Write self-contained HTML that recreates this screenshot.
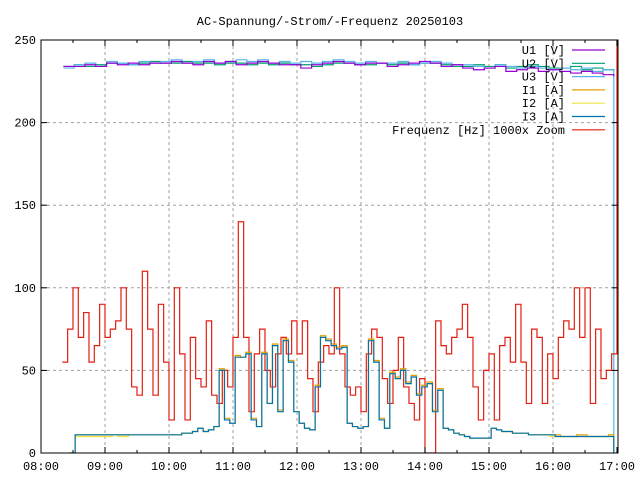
<!DOCTYPE html>
<html><head><meta charset="utf-8"><style>
body{margin:0;background:#fff}
svg{display:block;font-family:"Liberation Mono",monospace;font-size:12px}
</style></head><body>
<svg id="chart" width="640" height="480" xmlns="http://www.w3.org/2000/svg">
<rect width="640" height="480" fill="#fff"/>
<text x="330" y="25" text-anchor="middle">AC-Spannung/-Strom/-Frequenz 20250103</text>
<defs><clipPath id="clip"><rect x="41" y="40" width="577" height="413"/></clipPath></defs>
<g id="grid"></g>
<g id="series" clip-path="url(#clip)"></g>
<g id="axes"></g>
<g id="legend"></g>
</svg>
<script>
const yTicks=[0,50,100,150,200,250];
const xTickLabels=["08:00","09:00","10:00","11:00","12:00","13:00","14:00","15:00","16:00","17:00"];
const freqStart=8.333, freqStep=1/12;
const freq=[55,75,100,70,85,55,65,90,70,75,80,100,75,40,35,110,75,35,90,55,20,100,60,20,70,45,40,80,35,30,50,40,70,140,70,25,60,75,50,40,60,70,60,80,60,80,45,25,55,65,60,100,60,40,35,40,25,60,75,70,45,30,50,70,40,30,20,45,0,0,80,65,60,70,75,90,70,40,20,50,60,20,65,70,55,90,55,30,75,70,30,60,45,70,80,75,100,70,100,30,75,45,50,60,300];
const curStart=8.45, curEnd=16.95;
const i3=[0,11,11,11,11,11,11,11,11,11,11,11, 11,11,11,11,11,11,11,11,11,12,12,13, 15,13,14,16,50,20,18,58,58,60,20,16, 60,30,65,25,68,55,25,18,15,14,40,70, 68,65,63,64,18,16,15,16,68,55,20,15, 48,45,50,42,46,35,40,42,25,38,15,14, 12,11,10,9,9,9,9,15,14,13,13,12, 12,12,11,11,11,11,11,10,10,10,10,10, 10,10,10,10,10,10,0];
const i1=[0,11,11,11,11,11,11,11,11,11,11,11, 11,11,11,11,11,11,11,11,11,12,12,13, 15,13,14,16,51,21,18,59,58,61,21,16, 61,30,66,26,69,56,25,18,15,14,41,71, 69,66,64,65,18,16,15,16,69,56,21,15, 49,46,51,43,47,36,41,43,26,39,15,14, 12,11,10,9,9,9,9,15,14,13,13,12, 12,12,11,11,11,11,11,11,10,10,10,11, 11,10,10,10,10,11,0];
const i2=[0,10,10,10,10,10,10,10,11,10,10,11, 11,11,11,11,11,11,11,11,11,12,12,13, 15,13,14,16,50,20,18,58,58,60,20,16, 60,30,65,25,68,55,25,18,15,14,40,70, 68,65,63,64,18,16,15,16,68,55,20,15, 48,45,50,42,46,35,40,42,25,38,15,14, 12,11,10,9,9,9,9,15,14,13,13,12, 12,12,11,11,11,11,10,10,10,10,10,10, 10,10,10,10,10,10,0];
const voltStart=8.35, voltEnd=16.95;
const u1=[234,234,235,234,236,235,236,235,236,236,237,236,235,237,236,237,235,236,237,236,235,235,233,235,236,237,236,235,236,236,234,235,236,237,236,234,235,233,232,233,234,231,232,233,231,232,231,230,231,230,229,228];
const u2=[234,235,234,235,236,236,235,236,237,236,236,237,236,236,235,236,236,235,236,235,236,235,235,234,235,236,236,235,235,236,235,236,235,236,236,235,234,234,235,234,235,233,234,235,234,233,233,234,232,233,232,231];
const u3=[233,235,236,234,237,236,235,237,236,237,238,236,237,238,236,237,238,237,238,236,237,236,237,236,237,238,237,236,237,236,236,237,235,236,237,236,235,235,234,233,235,234,233,234,233,232,233,232,233,231,232,0];

const NS="http://www.w3.org/2000/svg";
const X0=41,X1=617,Y0=453,Y1=40;
function xs(h){return X0+(h-8)/9*(X1-X0);}
function ys(v){return Y0-v/250*(Y0-Y1);}
function mk(tag,attrs,parent){const e=document.createElementNS(NS,tag);for(const k in attrs)e.setAttribute(k,attrs[k]);parent.appendChild(e);return e;}
const grid=document.getElementById('grid'),axes=document.getElementById('axes'),series=document.getElementById('series'),legend=document.getElementById('legend');
yTicks.forEach(v=>{
  const y=ys(v);
  if(v>0&&v<250){const g=mk('line',{x1:X0,x2:X1+1,y1:y,y2:y,stroke:'#a0a0a0','stroke-dasharray':'3,3'},grid);
  
  }
  const t=mk('text',{x:X0-5,y:y+4,'text-anchor':'end'},axes);t.textContent=v;
  
  
  mk('line',{x1:X0,x2:X0+6,y1:y,y2:y,stroke:'#000'},axes);
  mk('line',{x1:X1+1,x2:X1-5,y1:y,y2:y,stroke:'#000'},axes);
});
xTickLabels.forEach((lab,i)=>{
  const x=xs(8+i);
  if(i>0&&i<9){const g=mk('line',{x1:x,x2:x,y1:Y1,y2:Y0,stroke:'#a0a0a0','stroke-dasharray':'3,3'},grid);
  
  }
  const t=mk('text',{x:x,y:Y0+17,'text-anchor':'middle'},axes);t.textContent=lab;
  
  
  mk('line',{x1:x,x2:x,y1:Y0,y2:Y0-6,stroke:'#000'},axes);
  mk('line',{x1:x,x2:x,y1:Y1,y2:Y1+6,stroke:'#000'},axes);
  if(i<9){const xm=xs(8.5+i);mk('line',{x1:xm,x2:xm,y1:Y0,y2:Y0-3,stroke:'#000'},axes);mk('line',{x1:xm,x2:xm,y1:Y1,y2:Y1+3,stroke:'#000'},axes);}
});
const frame=mk('rect',{x:X0,y:Y1,width:X1-X0+1,height:Y0-Y1,fill:'none',stroke:'#000'},axes);


function stepPath(arr,t0,dt,color,name){
  let d='';
  arr.forEach((v,i)=>{const x=xs(t0+i*dt),y=ys(v);
    if(i===0)d+='M'+x+' '+y;else{d+=' H'+x+' V'+y;}});
  const p=mk('path',{d:d,fill:'none',stroke:color,'stroke-width':1.2},series);
  
  
}
const vdt=(voltEnd-voltStart)/(u1.length-1), cdt=(curEnd-curStart)/(i3.length-1);
stepPath(u2,voltStart,vdt,'#009e73','series-u2');
stepPath(u3,voltStart,vdt,'#56b4e9','series-u3');
stepPath(u1,voltStart,vdt,'#9400d3','series-u1');
stepPath(freq,freqStart,freqStep,'#e51e10','series-frequenz');
stepPath(i1,curStart,cdt,'#e69f00','series-i1');
stepPath(i2,curStart,cdt,'#f0e442','series-i2');
stepPath(i3,curStart,cdt,'#0072b2','series-i3');
const legItems=[["U1 [V]","#9400d3"],["U2 [V]","#009e73"],["U3 [V]","#56b4e9"],["I1 [A]","#e69f00"],["I2 [A]","#f0e442"],["I3 [A]","#0072b2"],["Frequenz [Hz] 1000x Zoom","#e51e10"]];
legItems.forEach((it,i)=>{
  const y=50+i*13.3;
  const t=mk('text',{x:565,y:y+4,'text-anchor':'end'},legend);t.textContent=it[0];
  
  
  const l=mk('line',{x1:572,x2:605,y1:y,y2:y,stroke:it[1],'stroke-width':1.2},legend);
  
  
});
</script>
</body></html>
